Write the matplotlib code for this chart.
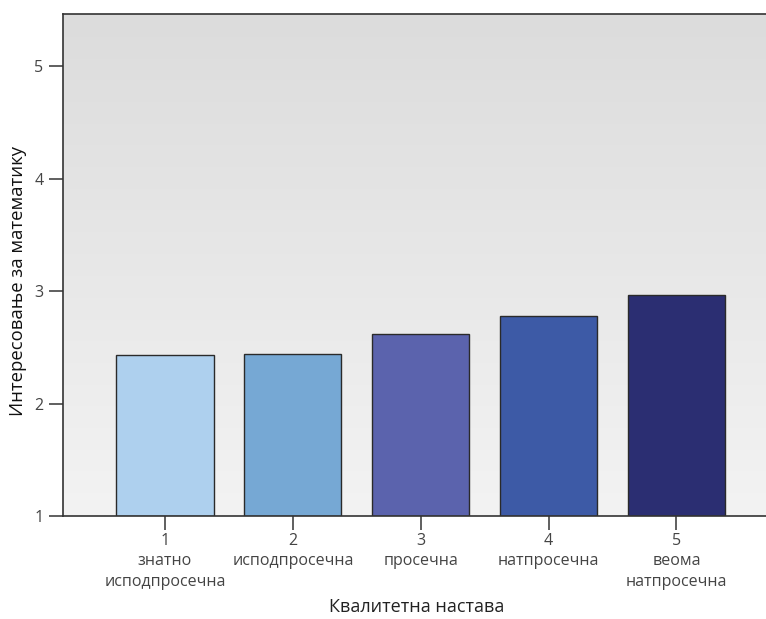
import numpy as np
import matplotlib
matplotlib.use("Agg")
import matplotlib.pyplot as plt

# data
levels = [1, 2, 3, 4, 5]
level_names = ["знатно\nисподпросечна", "исподпросечна", "просечна",
               "натпросечна", "веома\nнатпросечна"]
interest = [2.43, 2.44, 2.615, 2.775, 2.97]
bar_colors = ["#aed0ee", "#76a8d4", "#5b63ad", "#3d5aa6", "#2b2e72"]

plt.rcParams['font.family'] = ['Open Sans', 'DejaVu Sans']

fig = plt.figure(figsize=(7.66, 6.19), dpi=100)
ax = fig.add_axes([63/766, 103/619, 1 - 63/766, 502/619])

# grey gradient behind the bars
grad = np.linspace(0, 1, 256).reshape(-1, 1)
ax.imshow(grad, extent=[0, 1, 0, 1], transform=ax.transAxes, aspect='auto',
          cmap=matplotlib.colors.LinearSegmentedColormap.from_list("bg", ["#dcdcdc", "#f3f3f3"]),
          origin='upper', zorder=0)

ax.bar(levels, np.array(interest) - 1, bottom=1, width=0.76, color=bar_colors,
       edgecolor="#2a2a2a", linewidth=1.0, zorder=2)

ax.set_xlim(0.203, 5.70)
ax.set_ylim(1, 5.466)
ax.set_yticks([1, 2, 3, 4, 5])
ax.set_xticks(levels)
ax.set_xticklabels([f"{l}\n{n}" for l, n in zip(levels, level_names)],
                   linespacing=1.4, va='top')

ax.tick_params(axis='both', direction='out', length=10, width=1.2,
               color="#444444", labelcolor="#444444", labelsize=11.5)
ax.tick_params(axis='x', pad=2)
ax.tick_params(axis='y', pad=4)

for side in ['left', 'bottom', 'top']:
    ax.spines[side].set_color("#333333")
    ax.spines[side].set_linewidth(1.2)
ax.spines['right'].set_visible(False)

fig.text(18/766, 1 - 281/619, "Интересовање за математику", rotation=90,
         ha='center', va='center', fontsize=13.3, color="#111111")
fig.text(417/766, 1 - 607/619, "Квалитетна настава",
         ha='center', va='center', fontsize=13, color="#222222")

fig.savefig("out.png", dpi=100)
